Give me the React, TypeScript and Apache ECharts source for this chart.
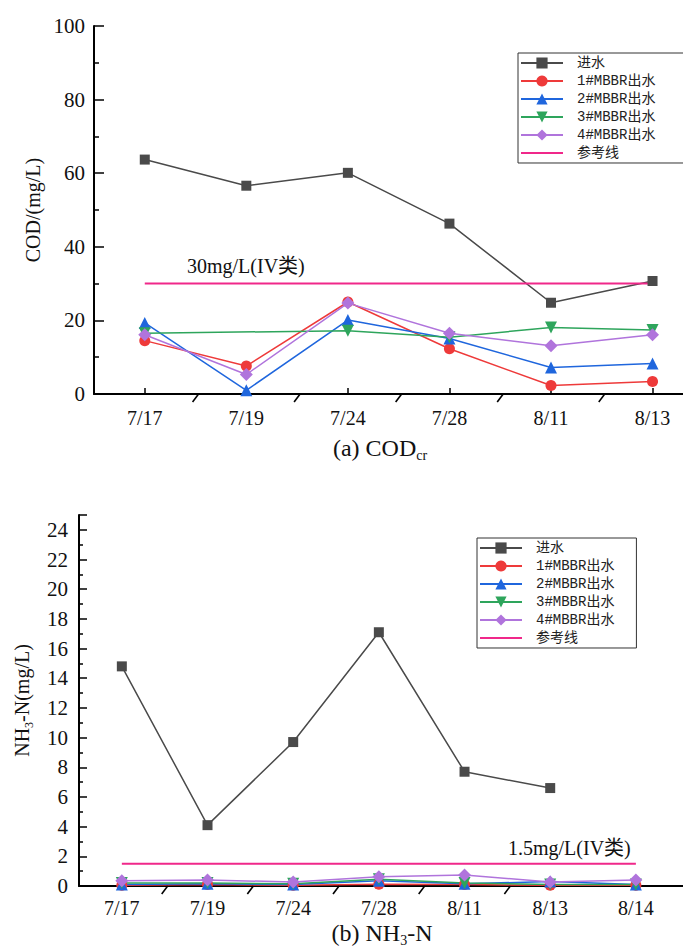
import { useEffect, useRef } from 'react';
import * as echarts from 'echarts';

const codDates = ['7/17', '7/19', '7/24', '7/28', '8/11', '8/13'];
const codInflow = [63.7, 56.6, 60.1, 46.3, 24.8, 30.7];
const codR1 = [14.5, 7.6, 25.0, 12.3, 2.3, 3.4];
const codR2 = [19.3, 1.0, 20.1, 15.1, 7.2, 8.3];
const codR3 = [16.5, null, 17.2, 15.4, 18.1, 17.4];
const codR4 = [16.1, 5.3, 24.7, 16.5, 13.1, 16.1];
const codRef = [30, 30, 30, 30, 30, 30];
const codBreaks = [0.5, 1.5, 2.5, 3.5, 4.5];

const nhDates = ['7/17', '7/19', '7/24', '7/28', '8/11', '8/13', '8/14'];
const nhInflow = [14.8, 4.1, 9.7, 17.1, 7.7, 6.6, null];
const nhR1 = [0.05, 0.1, 0.05, 0.12, 0.1, 0.05, 0.05];
const nhR2 = [0.1, 0.15, 0.1, 0.35, 0.15, 0.3, 0.1];
const nhR3 = [0.2, 0.2, 0.15, 0.45, 0.2, 0.1, 0.1];
const nhR4 = [0.36, 0.4, 0.27, 0.63, 0.74, 0.27, 0.4];
const nhRef = [1.5, 1.5, 1.5, 1.5, 1.5, 1.5, 1.5];
const nhBreaks = [0.5, 1.5, 2.5, 3.5, 4.5];

const seriesNames = ['进水', '1#MBBR出水', '2#MBBR出水', '3#MBBR出水', '4#MBBR出水', '参考线'];
const colors = ['#4a4a4a', '#ee3a3a', '#1f66dd', '#2ea55c', '#b074dc', '#f0288a'];

const SERIF = "'Liberation Serif', 'Noto Sans CJK SC', serif";
const MONO = "'Liberation Mono', 'Noto Sans CJK SC', monospace";

function buildSeries(grid: number, vals: (number | null)[][], breaks: number[]) {
  const symbols = ['rect', 'circle', 'triangle', 'triangle', 'diamond', 'circle'];
  const sizes = [10, 11, 12, 12, 13, 0];
  const rotates = [0, 0, 0, 180, 0, 0];
  const out: any[] = vals.map((d, i) => ({
    type: 'line',
    name: seriesNames[i],
    xAxisIndex: grid,
    yAxisIndex: grid,
    data: d.map((v, k) => [k, v]),
    symbol: symbols[i],
    symbolSize: sizes[i],
    symbolRotate: rotates[i],
    showSymbol: i !== 5,
    connectNulls: true,
    lineStyle: { width: i === 5 ? 2 : 1.5, color: colors[i] },
    itemStyle: i === 5 ? { color: 'rgba(0,0,0,0)', borderWidth: 0 } : { color: colors[i] },
    z: 3 + (i === 4 ? 1 : 0),
  }));
  out.push({
    type: 'custom',
    name: 'break',
    xAxisIndex: grid,
    yAxisIndex: grid,
    data: breaks.map((b) => [b, 0]),
    silent: true,
    z: 10,
    renderItem: (_p: any, api: any) => {
      const p = api.coord([api.value(0), api.value(1)]);
      return {
        type: 'line',
        shape: { x1: p[0] - 3, y1: p[1] + 8, x2: p[0] + 3, y2: p[1] },
        style: { stroke: '#000', lineWidth: 1.6 },
      };
    },
  });
  return out;
}

const legendCommon = {
  orient: 'vertical',
  itemWidth: 42,
  itemHeight: 14,
  itemGap: 4,
  borderColor: '#333',
  borderWidth: 1,
  textStyle: { fontFamily: MONO, fontSize: 14, color: '#222', padding: [0, 0, 0, 9] },
  data: seriesNames,
};

const xValAxis = (dates: string[], gridIndex: number, max: number, margin: number) => {
  const idx = dates.map((_d, i) => i);
  return {
    type: 'value',
    gridIndex,
    min: -0.5,
    max,
    axisLine: { onZero: false, lineStyle: { color: '#000', width: 2 } },
    axisTick: { customValues: idx, inside: true, length: 6, lineStyle: { color: '#000', width: 1.5 } },
    axisLabel: {
      customValues: idx,
      formatter: (v: number) => dates[Math.round(v)] ?? '',
      fontFamily: SERIF,
      fontSize: 20,
      color: '#111',
      margin,
    },
    splitLine: { show: false },
  };
};

const option: any = {
  animation: false,
  backgroundColor: '#fff',
  grid: [
    { left: 94, top: 26, width: 589, height: 368 },
    { left: 79, top: 515, width: 604, height: 371 },
  ],
  legend: [
    { ...legendCommon, left: 518, top: 53, padding: [3, 44, 3, 2] },
    { ...legendCommon, left: 477, top: 538, padding: [3, 22, 3, 2] },
  ],
  xAxis: [xValAxis(codDates, 0, 5.3, 14), xValAxis(nhDates, 1, 6.55, 12)],
  yAxis: [
    {
      type: 'value',
      gridIndex: 0,
      min: 0,
      max: 100,
      interval: 20,
      name: 'COD/(mg/L)',
      nameLocation: 'middle',
      nameGap: 50,
      nameTextStyle: { fontFamily: SERIF, fontSize: 20, color: '#111' },
      axisLine: { show: true, onZero: false, lineStyle: { color: '#000', width: 2 } },
      axisTick: { show: true, inside: true, length: 10, lineStyle: { color: '#000', width: 1.5 } },
      minorTick: { show: true, splitNumber: 2, length: 5, lineStyle: { color: '#000', width: 1.5 } },
      axisLabel: { fontFamily: SERIF, fontSize: 21, color: '#111', margin: 9 },
      splitLine: { show: false },
    },
    {
      type: 'value',
      gridIndex: 1,
      min: 0,
      max: 25,
      interval: 2,
      name: '{a|NH}{s|3}{a|-N(mg/L)}',
      nameLocation: 'middle',
      nameGap: 44,
      nameTextStyle: {
        fontFamily: SERIF,
        fontSize: 20,
        color: '#111',
        rich: {
          a: { fontFamily: SERIF, fontSize: 20, color: '#111', lineHeight: 26 },
          s: { fontFamily: SERIF, fontSize: 12, color: '#111', lineHeight: 12, verticalAlign: 'bottom' },
        },
      },
      axisLine: { show: true, onZero: false, lineStyle: { color: '#000', width: 2 } },
      axisTick: { show: true, inside: true, length: 8, lineStyle: { color: '#000', width: 1.5 } },
      minorTick: { show: true, splitNumber: 2, length: 4, lineStyle: { color: '#000', width: 1.5 } },
      axisLabel: {
        fontFamily: SERIF,
        fontSize: 21,
        color: '#111',
        margin: 11,
        formatter: (v: number) => (v % 2 === 0 ? String(v) : ''),
      },
      splitLine: { show: false },
    },
  ],
  series: [
    ...buildSeries(0, [codInflow, codR1, codR2, codR3, codR4, codRef], codBreaks),
    ...buildSeries(1, [nhInflow, nhR1, nhR2, nhR3, nhR4, nhRef], nhBreaks),
  ],
  graphic: [
    {
      type: 'text',
      x: 187,
      y: 266,
      style: { text: '30mg/L(IV类)', fontFamily: SERIF, fontSize: 20, fill: '#111', textVerticalAlign: 'middle' },
    },
    {
      type: 'text',
      x: 508,
      y: 848,
      style: { text: '1.5mg/L(IV类)', fontFamily: SERIF, fontSize: 20, fill: '#111', textVerticalAlign: 'middle' },
    },
    {
      type: 'text',
      x: 380,
      y: 448,
      style: {
        text: '{a|(a) COD}{s|cr}',
        textAlign: 'center',
        textVerticalAlign: 'middle',
        rich: {
          a: { fontFamily: SERIF, fontSize: 24, fill: '#111', lineHeight: 28 },
          s: { fontFamily: SERIF, fontSize: 14, fill: '#111', lineHeight: 14, verticalAlign: 'bottom' },
        },
      },
    },
    {
      type: 'text',
      x: 382,
      y: 933,
      style: {
        text: '{a|(b) NH}{s|3}{a|-N}',
        textAlign: 'center',
        textVerticalAlign: 'middle',
        rich: {
          a: { fontFamily: SERIF, fontSize: 24, fill: '#111', lineHeight: 28 },
          s: { fontFamily: SERIF, fontSize: 14, fill: '#111', lineHeight: 14, verticalAlign: 'bottom' },
        },
      },
    },
  ],
};

export default function App() {
  const ref = useRef<HTMLDivElement>(null);
  useEffect(() => {
    const chart = echarts.init(ref.current!, null, { renderer: 'svg' });
    chart.setOption(option);
    return () => chart.dispose();
  }, []);
  return (
    <div
      ref={ref}
      style={{ position: 'absolute', left: 0, top: 0, width: 683, height: 948, background: '#fff' }}
    />
  );
}
